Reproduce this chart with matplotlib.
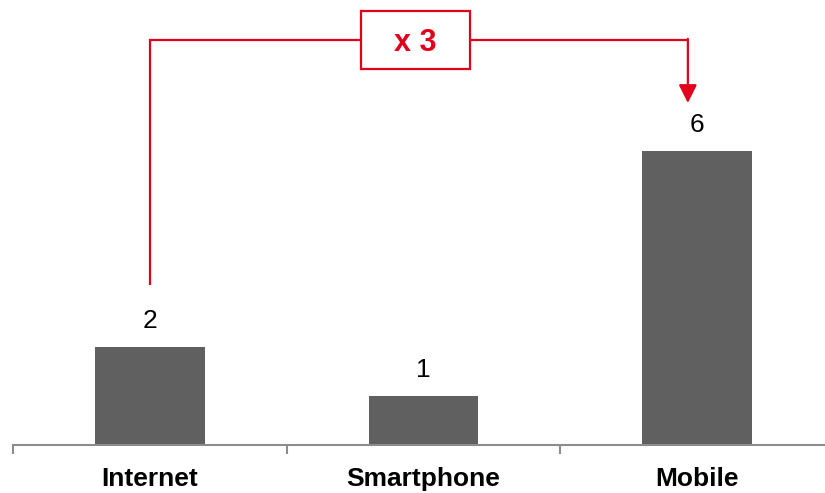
import matplotlib
matplotlib.use("Agg")
import matplotlib.pyplot as plt
from matplotlib.patches import Rectangle

categories = ["Internet", "Smartphone", "Mobile"]
values = [2, 1, 6]
ratio_label = "x 3"

red = "#e2001a"
bar_color = "#606060"

plt.rcParams["font.family"] = ["Liberation Sans", "DejaVu Sans"]

fig = plt.figure(figsize=(8.25, 4.93), dpi=100)
ax = fig.add_axes([13 / 825, 48 / 493, 821 / 825, 441 / 493])

xs = list(range(len(categories)))
ax.bar(xs, values, width=0.4, color=bar_color, zorder=2)
for x, v in zip(xs, values):
    ax.text(x, v + 0.53, str(v), ha="center", va="center", fontsize=19)

ax.set_xlim(-0.5, 2.5)
ax.set_ylim(0, 9)
for s in ["top", "right", "left"]:
    ax.spines[s].set_visible(False)
ax.spines["bottom"].set_color("#8c8c8c")
ax.spines["bottom"].set_linewidth(1.5)
ax.set_yticks([])
ax.set_xticks(xs)
ax.set_xticklabels(categories, fontsize=19, fontweight="bold")
ax.tick_params(axis="x", which="major", length=0, pad=15.5)
ax.set_xticks([-0.5, 0.5, 1.5, 2.5], minor=True)
ax.tick_params(axis="x", which="minor", length=6.5, width=1.5,
               color="#8c8c8c", direction="out")

# bracket from Internet to Mobile with the growth factor
top = 8.27
x0, x1 = xs[0], xs[2] - 0.034
ax.plot([x0, x0, x1], [values[0] + 1.27, top, top], color=red, lw=1.6,
        solid_capstyle="butt", solid_joinstyle="miter", clip_on=False)
ax.annotate("", xy=(x1, values[2] + 0.98), xytext=(x1, top + 0.02),
            arrowprops=dict(arrowstyle="-|>,head_length=1.1,head_width=0.55",
                            color=red, lw=1.6, shrinkA=0, shrinkB=0))
bx, bw, bh = 0.971, 0.398, 1.19
ax.add_patch(Rectangle((bx - bw / 2, top - bh / 2), bw, bh, facecolor="white",
                       edgecolor=red, lw=1.6, zorder=3, clip_on=False))
ax.text(bx, top - 0.06, ratio_label, ha="center", va="center", color=red,
        fontsize=22, fontweight="bold", zorder=4)

fig.savefig("out.png", dpi=100)
